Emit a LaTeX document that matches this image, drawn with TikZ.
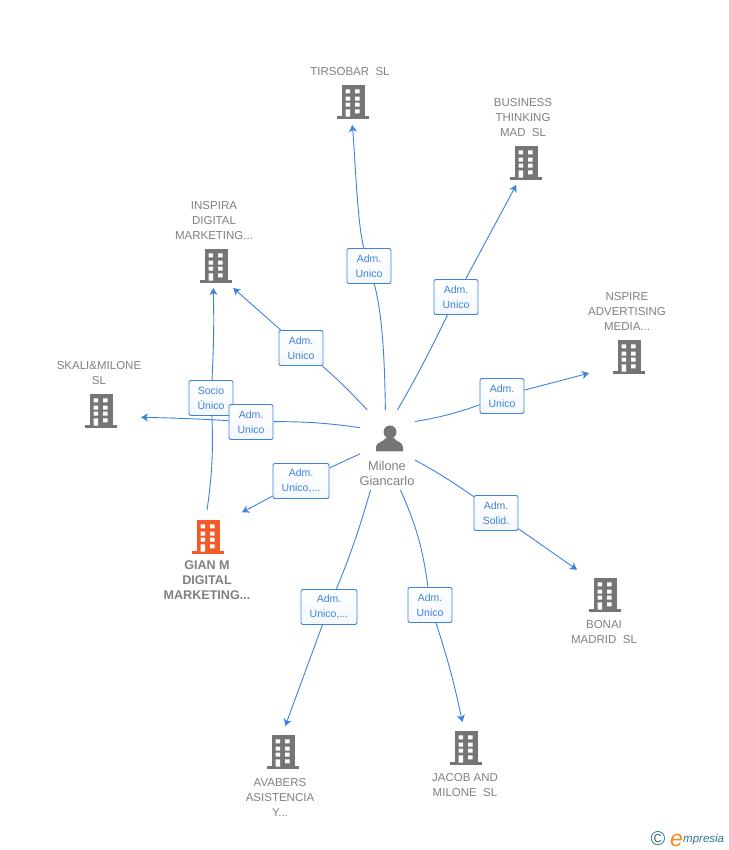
\documentclass[tikz,border=0pt]{standalone}
\usepackage{fontspec}
\setmainfont{Liberation Sans}
\usetikzlibrary{arrows.meta}
\definecolor{linkblue}{HTML}{3D82DC}
\definecolor{firmgray}{HTML}{757575}
\definecolor{textgray}{HTML}{808080}
\definecolor{firmorange}{HTML}{F4592A}
\definecolor{logoteal}{HTML}{2F7488}
\definecolor{logoorange}{HTML}{F08A1D}
\tikzset{
  firm/.style={inner sep=0pt,outer sep=0pt},
  firmtext/.style={inner sep=0pt,align=center,text=textgray,font=\fontsize{11.5}{15}\selectfont},
  roletag/.style={draw=linkblue,line width=0.9pt,rounded corners=2pt,top color=white,bottom color=linkblue!6,
    text=linkblue,inner sep=0pt,align=center,minimum height=35pt,minimum width=44pt,font=\fontsize{10.5}{15}\selectfont},
  link/.style={draw=linkblue,line width=0.9pt},
  arrowlink/.style={link,-{Stealth[length=7pt,width=8pt,inset=2pt]}},
  bldg/.pic={
    \fill[pic actions] (-11.5,17) rectangle (11.5,-15);
    \fill[pic actions] (-16,-14.5) rectangle (16,-17.5);
    \fill[white] (-7.5,12.7) rectangle (-3,8.7) (2,12.7) rectangle (6.5,8.7);
    \fill[white] (-7.5,5.3) rectangle (-3,1.3) (2,5.3) rectangle (6.5,1.3);
    \fill[white] (-7.5,-0.7) rectangle (-3,-4.7) (2,-0.7) rectangle (6.5,-4.7);
    \fill[white] (-7.5,-7.3) rectangle (-3,-14.7) (2,-7.3) rectangle (6.5,-11.3);
  }
}
\begin{document}
\begin{tikzpicture}[x=1pt,y=1pt]
\useasboundingbox (0,0) rectangle (728,850);
\node[firm,minimum width=55pt,minimum height=80pt] (milone) at (387.5,400) {}; % Person
\fill[firmgray] (390,418) circle (6.5); % Person.head
\fill[firmgray] (376,398.5) -- (376,403) .. controls (376,408) and (384,408) .. (386,412) -- (394,412) .. controls (396,408) and (403,408) .. (403,403) -- (403,398.5) -- cycle; % Person.body
\node[firmtext,font=\fontsize{12.8}{15}\selectfont] (miloneText) at (387,377) {Milone\\Giancarlo};
\node[firm,minimum width=40pt,minimum height=46pt] (tirsobar) at (353,748) {};
\node[firm,minimum width=40pt,minimum height=44pt] (business) at (526,687) {};
\node[firm,minimum width=80pt,minimum height=40pt] (nspire) at (629,493) {};
\node[firm,minimum width=56pt,minimum height=60pt] (bonai) at (605,255) {};
\node[firm,minimum width=40pt,minimum height=52pt] (jacob) at (466,102) {};
\node[firm,minimum width=40pt,minimum height=52pt] (avabers) at (283,98) {};
\node[firm,minimum width=68pt,minimum height=54pt] (gian) at (208,313) {};
\node[firm,minimum width=80pt,minimum height=40pt] (skali) at (101,439) {};
\node[firm,minimum width=40pt,minimum height=44pt] (inspira) at (216,584) {};
\pic[fill=firmgray] at (tirsobar) {bldg};
\pic[fill=firmgray] at (business) {bldg};
\pic[fill=firmgray] at (nspire) {bldg};
\pic[fill=firmgray] at (bonai) {bldg};
\pic[fill=firmgray] at (jacob) {bldg};
\pic[fill=firmgray] at (avabers) {bldg};
\pic[fill=firmorange] at (gian) {bldg};
\pic[fill=firmgray] at (skali) {bldg};
\pic[fill=firmgray] at (inspira) {bldg};
\node[firmtext] (tirsobarText) at (350,778) {TIRSOBAR\ \ SL};
\node[firmtext] (businessText) at (523,732.5) {BUSINESS\\THINKING\\MAD\ \ SL};
\node[firmtext] (nspireText) at (627,538.5) {NSPIRE\\ADVERTISING\\MEDIA...};
\node[firmtext] (bonaiText) at (604,218) {BONAI\\MADRID\ \ SL};
\node[firmtext] (jacobText) at (465,65) {JACOB AND\\MILONE\ \ SL};
\node[firmtext] (avabersText) at (280,52.5) {AVABERS\\ASISTENCIA\\Y...};
\node[firmtext,font=\fontsize{12.6}{15}\selectfont\bfseries] (gianText) at (207,269.5) {GIAN M\\DIGITAL\\MARKETING...};
\node[firmtext] (skaliText) at (99,477) {SKALI\&MILONE\\SL};
\node[firmtext] (inspiraText) at (214,629.5) {INSPIRA\\DIGITAL\\MARKETING...};
\node[roletag] (tagTirsobar) at (369,584) {Adm.\\Unico};
\node[roletag] (tagBusiness) at (456,553) {Adm.\\Unico};
\node[roletag] (tagNspire) at (502,454) {Adm.\\Unico};
\node[roletag] (tagBonai) at (496,337) {Adm.\\Solid.};
\node[roletag] (tagJacob) at (430,245) {Adm.\\Unico};
\node[roletag,minimum width=56pt] (tagAvabers) at (329,243) {Adm.\\Unico,...};
\node[roletag,minimum width=56pt] (tagGian) at (301,369) {Adm.\\Unico,...};
\node[roletag] (tagSocio) at (211,452) {Socio\\Único};
\node[roletag] (tagSkali) at (251,428) {Adm.\\Unico};
\node[roletag] (tagInspira) at (301,502) {Adm.\\Unico};
\draw[link] (milone.93.6) to[out=91,in=-74,looseness=0.7] (tagTirsobar); % Link.tirsobar
\draw[arrowlink] (tagTirsobar) to[out=106,in=-84,looseness=0.5] (tirsobar.-92.5);
\draw[link] (milone.76.6) to[bend right=2] (tagBusiness); % Link.business
\draw[arrowlink] (tagBusiness) to (business.-114.4);
\draw[link] (milone.46.5) to[bend right=5] (tagNspire); % Link.nspire
\draw[arrowlink] (tagNspire) to (nspire.-158.2);
\draw[link] (milone.-20) to[bend left=3] (tagBonai); % Link.bonai
\draw[arrowlink] (tagBonai) to (bonai.138.2);
\draw[link] (milone.-72.6) to[bend left=8] (tagJacob); % Link.jacob
\draw[arrowlink] (tagJacob) to[bend left=3] (jacob.98.7);
\draw[link] (milone.-113.6) to[bend left=3] (tagAvabers); % Link.avabers
\draw[arrowlink] (tagAvabers) to (avabers.85.6);
\draw[link] (milone.188.3) to (tagGian); % Link.gian
\draw[arrowlink] (tagGian) to (gian.36.3);
\draw[link] (milone.141.3) to[bend right=4] (tagSkali); % Link.skali
\draw[arrowlink] (tagSkali) to[bend right=1] (skali.-9.9);
\draw[link] (milone.117) to[bend right=3] (tagInspira); % Link.inspira
\draw[arrowlink] (tagInspira) to (inspira.-52.3);
\draw[link] (gian.92) to[bend right=5] (tagSocio); % Link.socio
\draw[arrowlink] (tagSocio) to[bend right=2] (inspira.-97.8);
\node[inner sep=0pt,text=logoteal,font=\fontsize{20}{20}\selectfont] (logoMark) at (658,11) {©}; % Logo
\node[inner sep=0pt,anchor=west,text=logoteal,font=\fontsize{11.5}{13}\selectfont\itshape] (logoName) at (683,10) {mpresia};
\node[inner sep=0pt,anchor=east,text=logoorange,font=\fontsize{23}{25}\selectfont\itshape] (logoInitial) at (logoName.west) {e};
\end{tikzpicture}
\end{document}
